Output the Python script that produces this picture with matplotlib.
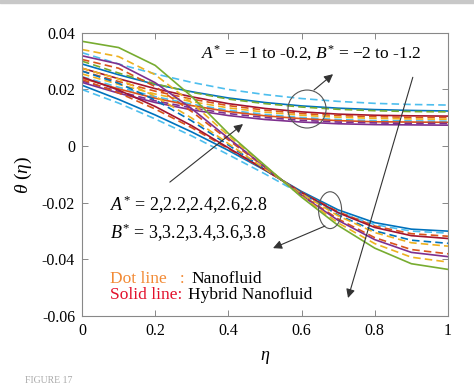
import numpy as np
import matplotlib.pyplot as plt
from matplotlib.patches import Ellipse, Rectangle

plt.rcParams['font.family'] = 'Liberation Serif'
plt.rcParams['mathtext.fontset'] = 'custom'
plt.rcParams['mathtext.rm'] = 'Liberation Serif'
plt.rcParams['mathtext.it'] = 'Liberation Serif:italic'

# === Données ===
eta = [0, 0.1, 0.2, 0.3, 0.4, 0.5, 0.6, 0.7, 0.8, 0.9, 1.0]

# groupe du haut : A* = -1 .. -0.2, B* = -2 .. -1.2
up_cyan_d = [0.0330, 0.0290, 0.0255, 0.0225, 0.0200, 0.0182, 0.0168, 0.0158, 0.0151, 0.0147, 0.0145]
up_blue_s = [0.0290, 0.0252, 0.0218, 0.0192, 0.0170, 0.0154, 0.0142, 0.0134, 0.0129, 0.0126, 0.0124]
up_green_d = [0.0300, 0.0258, 0.0220, 0.0190, 0.0166, 0.0150, 0.0138, 0.0130, 0.0125, 0.0122, 0.0121]
up_red_s = [0.0275, 0.0238, 0.0203, 0.0174, 0.0150, 0.0133, 0.0121, 0.0113, 0.0109, 0.0107, 0.0106]
up_orange_d = [0.0265, 0.0228, 0.0194, 0.0166, 0.0143, 0.0127, 0.0115, 0.0108, 0.0104, 0.0102, 0.0101]
up_yellow_d = [0.0255, 0.0218, 0.0184, 0.0157, 0.0135, 0.0120, 0.0109, 0.0102, 0.0098, 0.0096, 0.0095]
up_cyan2_d = [0.0245, 0.0208, 0.0175, 0.0148, 0.0127, 0.0112, 0.0101, 0.0094, 0.0090, 0.0089, 0.0088]
up_orange_s = [0.0240, 0.0202, 0.0169, 0.0143, 0.0122, 0.0107, 0.0097, 0.0090, 0.0086, 0.0085, 0.0084]
up_purple_d = [0.0230, 0.0193, 0.0160, 0.0135, 0.0115, 0.0101, 0.0091, 0.0085, 0.0082, 0.0080, 0.0080]
up_purple_s = [0.0225, 0.0187, 0.0154, 0.0128, 0.0108, 0.0094, 0.0085, 0.0079, 0.0076, 0.0075, 0.0074]

# groupe du bas : A* = 2 .. 2.8, B* = 3 .. 3.8
lo_blue_s = [0.0215, 0.0165, 0.0110, 0.0050, -0.0015, -0.0085, -0.0160, -0.0225, -0.0270, -0.0293, -0.0300]
lo_cyan_d = [0.0200, 0.0152, 0.0096, 0.0036, -0.0030, -0.0098, -0.0170, -0.0233, -0.0277, -0.0300, -0.0307]
lo_orange_d = [0.0235, 0.0188, 0.0131, 0.0065, -0.0009, -0.0084, -0.0163, -0.0232, -0.0282, -0.0309, -0.0318]
lo_red_s = [0.0244, 0.0198, 0.0140, 0.0072, -0.0006, -0.0083, -0.0164, -0.0235, -0.0287, -0.0316, -0.0326]
lo_blue_d = [0.0265, 0.0222, 0.0163, 0.0089, 0.0004, -0.0081, -0.0166, -0.0243, -0.0299, -0.0332, -0.0343]
lo_yellow_d = [0.0275, 0.0237, 0.0176, 0.0099, 0.0009, -0.0080, -0.0168, -0.0246, -0.0305, -0.0341, -0.0353]
lo_orange2_d = [0.0306, 0.0275, 0.0210, 0.0122, 0.0022, -0.0075, -0.0172, -0.0257, -0.0323, -0.0365, -0.0380]
lo_purple_s = [0.0319, 0.0290, 0.0224, 0.0132, 0.0028, -0.0073, -0.0174, -0.0262, -0.0330, -0.0375, -0.0390]
lo_yellow2_d = [0.0341, 0.0316, 0.0252, 0.0153, 0.0037, -0.0070, -0.0177, -0.0271, -0.0344, -0.0392, -0.0409]
lo_green_s = [0.0370, 0.0348, 0.0285, 0.0175, 0.0045, -0.0068, -0.0180, -0.0280, -0.0360, -0.0415, -0.0435]

x_ticks = [0, 0.2, 0.4, 0.6, 0.8, 1]
x_labels = ['0', '0.2', '0.4', '0.6', '0.8', '1']
y_ticks = [-0.06, -0.04, -0.02, 0, 0.02, 0.04]
y_labels = ['-0.06', '-0.04', '-0.02', '0', '0.02', '0.04']

# couleurs MATLAB
c_blue = '#0072BD'
c_orange = '#D95319'
c_yellow = '#EDB120'
c_purple = '#7E2F8E'
c_green = '#77AC30'
c_cyan = '#4DBEEE'
c_red = '#A2142F'

courbes = [
    (up_cyan_d, c_cyan, '--'), (up_blue_s, c_blue, '-'), (up_green_d, c_green, '--'),
    (up_red_s, c_red, '-'), (up_orange_d, c_orange, '--'), (up_yellow_d, c_yellow, '--'),
    (up_cyan2_d, c_cyan, '--'), (up_orange_s, c_orange, '-'), (up_purple_d, c_purple, '--'),
    (up_purple_s, c_purple, '-'),
    (lo_blue_s, c_blue, '-'), (lo_cyan_d, c_cyan, '--'), (lo_orange_d, c_orange, '--'),
    (lo_red_s, c_red, '-'), (lo_blue_d, c_blue, '--'), (lo_yellow_d, c_yellow, '--'),
    (lo_orange2_d, c_orange, '--'), (lo_purple_s, c_purple, '-'), (lo_yellow2_d, c_yellow, '--'),
    (lo_green_s, c_green, '-'),
]

fig = plt.figure(figsize=(4.74, 3.86), dpi=100)
fig.patches.append(Rectangle((0, 1 - 3 / 386), 1, 3 / 386, transform=fig.transFigure,
                             color='#c8c8c8', zorder=0))
ax = fig.add_axes([0.173, 0.181, 0.772, 0.734])

for y, c, ls in courbes:
    if ls == '--':
        ax.plot(eta, y, color=c, lw=1.2, dashes=(4.5, 2.5))
    else:
        ax.plot(eta, y, color=c, lw=1.2)

ax.set_xlim(0, 1)
ax.set_ylim(-0.06, 0.04)
ax.set_xticks(x_ticks)
ax.set_xticklabels(x_labels)
ax.set_yticks(y_ticks)
ax.set_yticklabels(y_labels)
ax.tick_params(direction='in', top=True, right=True, length=4, width=0.7,
               color='#888888', labelsize=11.5, pad=5)
for s in ax.spines.values():
    s.set_color('#888888')
    s.set_linewidth(0.8)

ax.set_xlabel(r'$\eta$', fontsize=13, labelpad=7)
ax.set_ylabel(r'$\theta\ (\eta)$', fontsize=14)
ax.yaxis.set_label_coords(-0.13, 0.5)

# ellipses + flèches
ax.add_patch(Ellipse((0.615, 0.0131), 0.104, 0.0134, fill=False, ec='#555555', lw=0.8, zorder=5))
ax.add_patch(Ellipse((0.678, -0.0226), 0.063, 0.013, fill=False, ec='#555555', lw=0.8, zorder=5))

fleche = dict(arrowstyle='-|>', color='#333333', lw=0.8, mutation_scale=13, shrinkA=0, shrinkB=0)
ax.annotate('', xy=(0.686, 0.0254), xytext=(0.634, 0.0198), arrowprops=fleche, zorder=6)
ax.annotate('', xy=(0.522, -0.0360), xytext=(0.664, -0.0282), arrowprops=fleche, zorder=6)
ax.annotate('', xy=(0.440, 0.0078), xytext=(0.240, -0.0127), arrowprops=fleche, zorder=6)
ax.annotate('', xy=(0.727, -0.0536), xytext=(0.904, 0.0243), arrowprops=fleche, zorder=6)

# textes
ax.text(0.325, 0.0328, r'$A^{*}$ = −1 to -0.2, $B^{*}$ = −2 to -1.2', fontsize=12.5, va='center', zorder=7)
ax.text(0.0765, -0.0208, r'$A^{*}$ = 2,2.2,2.4,2.6,2.8', fontsize=13, va='center', zorder=7)
ax.text(0.0765, -0.0307, r'$B^{*}$ = 3,3.2,3.4,3.6,3.8', fontsize=13, va='center', zorder=7)
ax.text(0.0765, -0.0469, 'Dot line   :', fontsize=12.5, va='center', color='#F28A35', zorder=7)
ax.text(0.298, -0.0469, 'Nanofluid', fontsize=12.5, va='center', color='black', zorder=7)
ax.text(0.0765, -0.0526, 'Solid line:', fontsize=12.5, va='center', color='#E3102C', zorder=7)
ax.text(0.290, -0.0526, 'Hybrid Nanofluid', fontsize=12.5, va='center', color='black', zorder=7)

fig.text(0.053, 0.003, 'FIGURE 17', fontsize=7, color='#aaaaaa', va='bottom')

fig.savefig('out.png', dpi=100)
